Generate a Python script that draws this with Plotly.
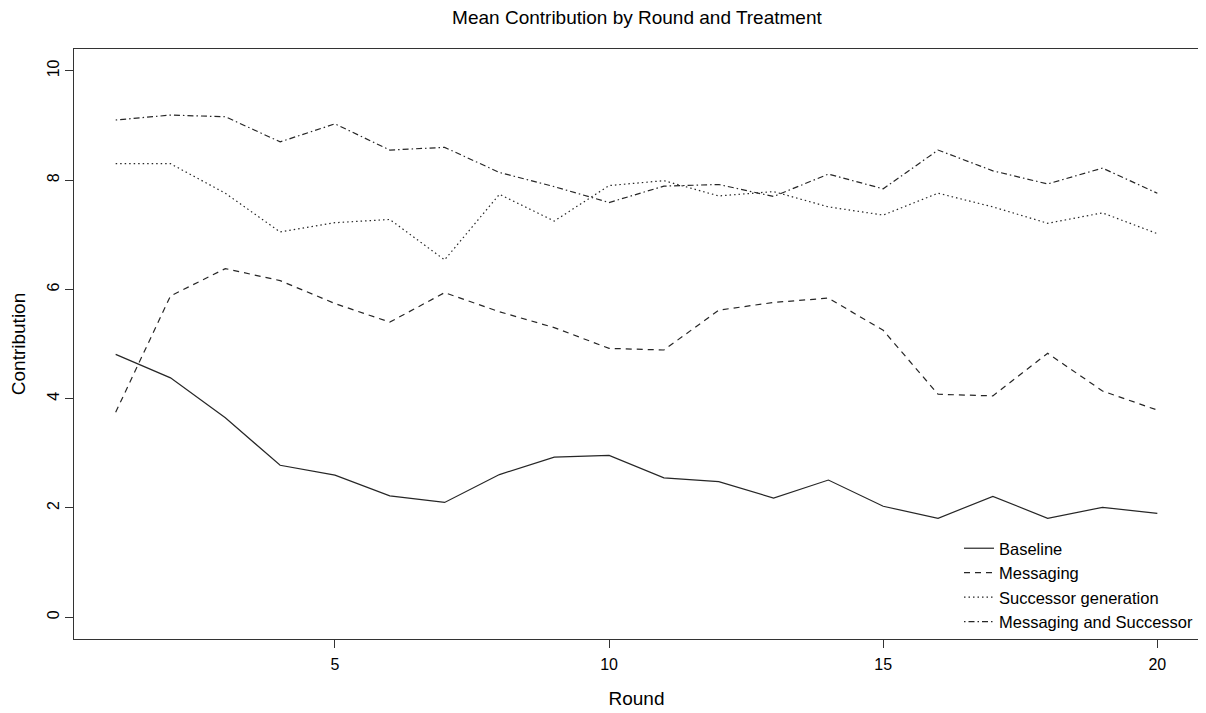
import plotly.graph_objects as go

rounds = list(range(1, 21))
baseline = [4.81, 4.38, 3.65, 2.78, 2.60, 2.22, 2.10, 2.61, 2.93, 2.96,
            2.55, 2.48, 2.18, 2.51, 2.03, 1.81, 2.21, 1.81, 2.01, 1.90]
messaging = [3.75, 5.88, 6.38, 6.16, 5.74, 5.40, 5.94, 5.59, 5.30, 4.92,
             4.89, 5.62, 5.76, 5.84, 5.25, 4.08, 4.05, 4.83, 4.14, 3.79]
successor = [8.30, 8.30, 7.76, 7.05, 7.22, 7.28, 6.54, 7.74, 7.25, 7.90,
             7.99, 7.71, 7.79, 7.51, 7.36, 7.76, 7.51, 7.21, 7.40, 7.02]
msg_succ = [9.10, 9.19, 9.16, 8.70, 9.03, 8.55, 8.60, 8.14, 7.88, 7.59,
            7.89, 7.92, 7.70, 8.11, 7.84, 8.55, 8.17, 7.93, 8.22, 7.76]

series_names = ["Baseline", "Messaging", "Successor generation", "Messaging and Successor"]
series_vals = [baseline, messaging, successor, msg_succ]
dashes = ["solid", "6px,5px", "1.5px,3px", "1.5px,3px,6px,3px"]

x_ticks = [5, 10, 15, 20]
y_ticks = [0, 2, 4, 6, 8, 10]

fig = go.Figure()
for name, vals, d in zip(series_names, series_vals, dashes):
    fig.add_trace(go.Scatter(x=rounds, y=vals, mode="lines", name=name,
                             line=dict(color="#262626", width=1.2, dash=d)))

font = "Liberation Sans, Arial, sans-serif"
# page body has an 8px margin, so the figure is sized to fill 1206x713 from (8,8)
fig.update_layout(
    width=1198, height=705,
    margin=dict(l=66, r=7, t=41, b=74, autoexpand=False),
    paper_bgcolor="white", plot_bgcolor="white",
    font=dict(family=font, size=16, color="black"),
    title=dict(text="Mean Contribution by Round and Treatment", x=0.525, xanchor="center",
               xref="container", y=0.987, yanchor="middle", font=dict(size=19)),
    showlegend=True,
    legend=dict(x=1.0, y=0.0, xanchor="right", yanchor="bottom",
                bgcolor="rgba(0,0,0,0)", font=dict(size=16.5),
                tracegroupgap=0, itemwidth=30),
)
fig.update_xaxes(range=[0.24, 20.76], tickvals=x_ticks, ticks="outside", ticklen=8,
                 tickcolor="#333", showline=True, mirror=True, linecolor="#333", linewidth=1,
                 showgrid=False, zeroline=False, ticklabelstandoff=3,
                 title=dict(text="Round", standoff=19), tickfont=dict(size=16))
fig.update_yaxes(range=[-0.4, 10.4], tickvals=y_ticks, ticks="outside", ticklen=8,
                 tickcolor="#333", showline=True, mirror=True, linecolor="#333", linewidth=1,
                 showgrid=False, zeroline=False, tickangle=-90, ticklabelstandoff=0,
                 title=dict(text="Contribution", standoff=20), tickfont=dict(size=16))

fig.write_html("out.html")
